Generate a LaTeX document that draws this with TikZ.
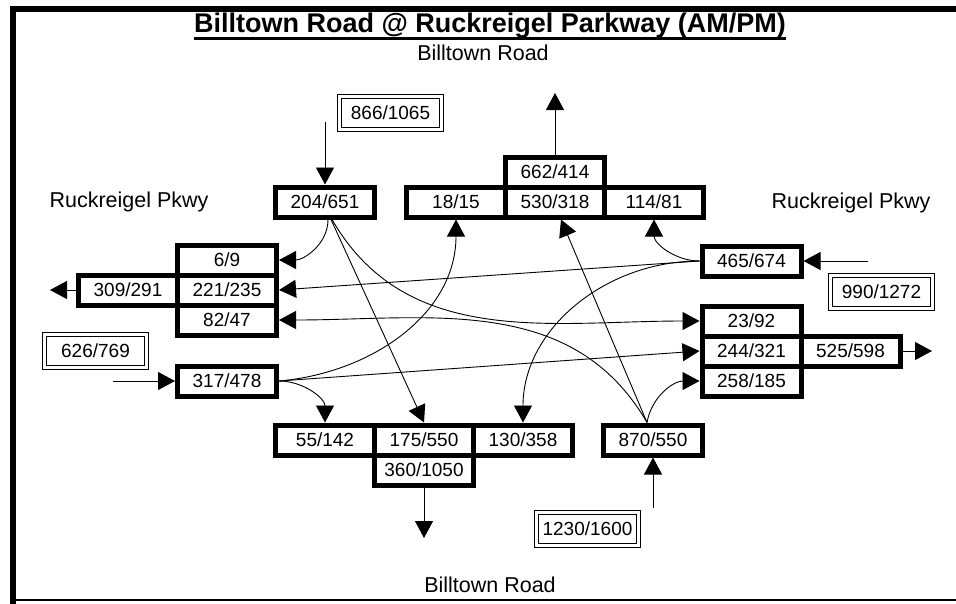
\documentclass[tikz,border=0pt]{standalone}
\usepackage{fontspec}
\setmainfont{Liberation Sans}
\usepackage{tikz}
\usetikzlibrary{arrows.meta}

\newcommand{\numfont}{\fontsize{19}{21}\selectfont}
\newcommand{\labfont}{\fontsize{21.5}{24}\selectfont}
\newcommand{\titfont}{\fontsize{27}{30}\selectfont\bfseries}

\begin{document}
\begin{tikzpicture}[x=1pt, y=-1pt,
  cel/.style={draw, line width=5pt, minimum width=99pt, minimum height=30pt, inner sep=0pt, font=\numfont},
  tot/.style={draw, double, double distance=3pt, line width=1.2pt, minimum width=101.5pt, minimum height=32.5pt, inner sep=0pt, font=\numfont},
  seta/.style={-{Triangle[length=17pt, width=18pt]}, line width=0.9pt},
  via/.style={font=\labfont, inner sep=0pt, anchor=base}]
  \useasboundingbox (0,0) rectangle (956,603);
  % moldura
  \draw[line width=6pt] (962,9.3) -- (12.7,9.3) -- (12.7,606);
  \draw[line width=2.5pt] (12.7,600) -- (962,600);
  % titulo e nomes das vias
  \node[via, font=\titfont] (titulo) at (490,32) {Billtown Road @ Ruckreigel Parkway (AM/PM)};
  \draw[line width=2.6pt] ([yshift=-6.5pt]titulo.base west) -- ([yshift=-6.5pt]titulo.base east);
  \node[via] (viaN) at (483,60) {Billtown Road};
  \node[via] (viaS) at (490,592) {Billtown Road};
  \node[via] (viaW) at (129,207) {Ruckreigel Pkwy};
  \node[via] (viaE) at (851,208) {Ruckreigel Pkwy};
  % totais de entrada
  \node[tot] (sbTot) at (390.5,113) {866/1065};
  \node[tot] (ebTot) at (95.5,351) {626/769};
  \node[tot] (wbTot) at (881.5,292) {990/1272};
  \node[tot] (nbTot) at (587.5,529) {1230/1600};
  % aproximacoes
  \node[cel] (sbIn) at (325,202) {204/651};
  \node[cel] (ebIn) at (227,381) {317/478};
  \node[cel] (wbIn) at (751.5,261) {465/674};
  \node[cel] (nbIn) at (653,440) {870/550};
  % saida norte
  \node[cel] (topL) at (456,202) {18/15};
  \node[cel] (topM) at (555,202) {530/318};
  \node[cel] (topR) at (654,202) {114/81};
  \node[cel] (topSum) at (555,172) {662/414};
  % saida oeste
  \node[cel] (leftT) at (227,260) {6/9};
  \node[cel] (leftM) at (227,290) {221/235};
  \node[cel] (leftB) at (227,320) {82/47};
  \node[cel] (leftSum) at (128,290) {309/291};
  % saida leste
  \node[cel] (rightT) at (751.5,321) {23/92};
  \node[cel] (rightM) at (751.5,351) {244/321};
  \node[cel] (rightB) at (751.5,381) {258/185};
  \node[cel] (rightSum) at (850.5,351) {525/598};
  % saida sul
  \node[cel] (botL) at (325,440) {55/142};
  \node[cel] (botM) at (424,440) {175/550};
  \node[cel] (botR) at (523,440) {130/358};
  \node[cel] (botSum) at (424,470) {360/1050};
  % pontas livres
  \coordinate (sbFrom) at (325,122);
  \coordinate (ebFrom) at (113,381);
  \coordinate (wbFrom) at (868,261);
  \coordinate (nbFrom) at (653,508);
  \coordinate (nTo) at (555,93);
  \coordinate (wTo) at (50,290);
  \coordinate (eTo) at (932,351);
  \coordinate (sTo) at (424,538);
  % entradas e saidas
  \draw[seta] (sbFrom) -- (sbIn.north);
  \draw[seta] (ebFrom) -- (ebIn.west);
  \draw[seta] (wbFrom) -- (wbIn.east);
  \draw[seta] (nbFrom) -- (nbIn.south);
  \draw[seta] (topSum.north) -- (nTo);
  \draw[seta] (leftSum.west) -- (wTo);
  \draw[seta] (rightSum.east) -- (eTo);
  \draw[seta] (botSum.south) -- (sTo);
  % movimentos
  \draw[seta] ([xshift=3pt]sbIn.south) to[out=-90, in=0] (leftT.east);
  \draw[seta] ([xshift=6pt]sbIn.south) -- (botM.north);
  \draw[seta] ([xshift=7pt]sbIn.south) to[out=-60, in=180] (rightT.west);
  \draw[seta] (ebIn.east) to[out=0, in=90] (botL.north);
  \draw[seta] (ebIn.east) to[out=5, in=-90] (topL.south);
  \draw[seta] (ebIn.east) -- (rightM.west);
  \draw[seta] (wbIn.west) to[out=180, in=-90] (topR.south);
  \draw[seta] (wbIn.west) -- (leftM.east);
  \draw[seta] (wbIn.west) to[out=180, in=90] (botR.north);
  \draw[seta] ([xshift=-6pt]nbIn.north) -- ([xshift=6pt]topM.south);
  \draw[seta] ([xshift=-6pt]nbIn.north) to[out=120, in=0] (leftB.east);
  \draw[seta] ([xshift=-6pt]nbIn.north) to[out=80, in=180] (rightB.west);
\end{tikzpicture}
\end{document}
